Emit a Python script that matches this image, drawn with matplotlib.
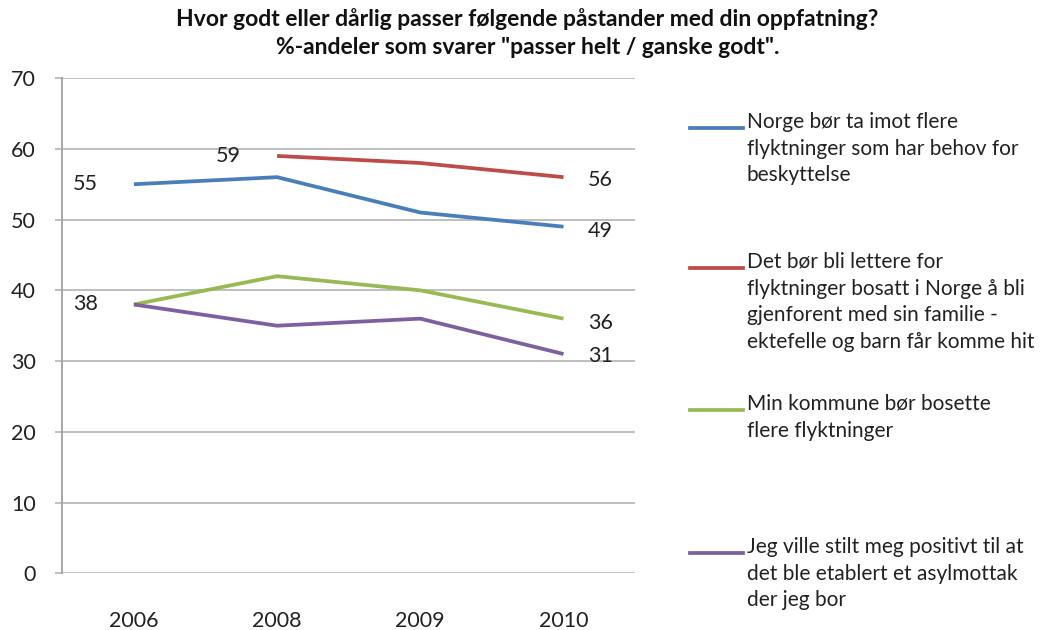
import matplotlib.pyplot as plt
from matplotlib.lines import Line2D
import numpy as np

plt.rcParams['font.family'] = ['Lato', 'DejaVu Sans']

years = ["2006", "2008", "2009", "2010"]
norge = [55, 56, 51, 49]
familie = [np.nan, 59, 58, 56]
kommune = [38, 42, 40, 36]
asylmottak = [38, 35, 36, 31]

labels = [
    "Norge bør ta imot flere\nflyktninger som har behov for\nbeskyttelse",
    "Det bør bli lettere for\nflyktninger bosatt i Norge å bli\ngjenforent med sin familie -\nektefelle og barn får komme hit",
    "Min kommune bør bosette\nflere flyktninger",
    "Jeg ville stilt meg positivt til at\ndet ble etablert et asylmottak\nder jeg bor",
]
colors = ["#4A7EBB", "#BE4B48", "#98B954", "#7D60A0"]
series = [norge, familie, kommune, asylmottak]

fig = plt.figure(figsize=(10.55, 6.3), dpi=100)
ax = fig.add_axes([0.059, 0.09, 0.543, 0.786])

x = np.arange(len(years))
for vals, c in zip(series, colors):
    ax.plot(x, vals, color=c, linewidth=2.7, solid_capstyle='butt')

# data labels
lab_kw = dict(fontsize=15.5, color="#222222", va='center')
ax.text(-0.25, norge[0], "55", ha='right', **lab_kw)
ax.text(-0.25, kommune[0], "38", ha='right', **lab_kw)
ax.text(0.75, familie[1], "59", ha='right', **lab_kw)
ax.text(3.17, familie[3] - 0.4, "56", ha='left', **lab_kw)
ax.text(3.17, norge[3] - 0.6, "49", ha='left', **lab_kw)
ax.text(3.17, kommune[3] - 0.6, "36", ha='left', **lab_kw)
ax.text(3.17, asylmottak[3] - 0.3, "31", ha='left', **lab_kw)

ax.set_xlim(-0.5, 3.5)
ax.set_ylim(0, 70)
ax.set_yticks(range(0, 71, 10))
ax.set_xticks(x)
ax.set_xticklabels(years)
ax.grid(axis='y', color="#BFBFBF", linewidth=1.4)
ax.set_axisbelow(True)
for s in ['top', 'right', 'bottom']:
    ax.spines[s].set_visible(False)
ax.spines['left'].set_color("#A6A6A6")
ax.spines['left'].set_linewidth(1.4)
ax.tick_params(axis='both', labelsize=15.5, labelcolor="#222222")
ax.tick_params(axis='x', length=0, pad=27)
ax.tick_params(axis='y', length=5, width=1.4, color="#BFBFBF", pad=14)

fig.text(0.5, 0.987, "Hvor godt eller dårlig passer følgende påstander med din oppfatning?\n"
         "%-andeler som svarer \"passer helt / ganske godt\".",
         ha='center', va='top', fontsize=16.5, fontweight='bold', linespacing=1.4,
         color="#111111")

# legend drawn by hand to keep Excel-like even spacing
leg_y = [128, 268, 410, 553]
for yy, lab, c in zip(leg_y, labels, colors):
    fy = 1 - yy / 630
    fig.add_artist(Line2D([690 / 1055, 743 / 1055], [fy, fy], color=c, linewidth=2.7))
    fig.text(747 / 1055, fy + 16 / 630, lab, ha='left', va='top', fontsize=15,
             linespacing=1.42, color="#222222")

fig.savefig("out.png", dpi=100)
